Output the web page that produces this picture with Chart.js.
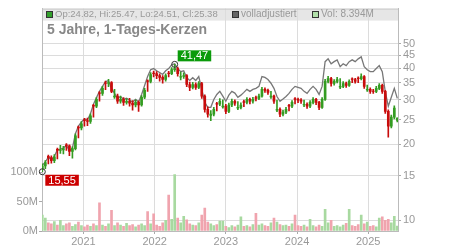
<!DOCTYPE html>
<html>
<head>
<meta charset="utf-8">
<script src="https://cdn.jsdelivr.net/npm/chart.js@4.4.1/dist/chart.umd.min.js"></script>
<style>
  html, body { margin: 0; padding: 0; background: #fff; }
  #wrap { width: 450px; height: 250px; }
</style>
</head>
<body>
<div id="wrap"><canvas id="chart" width="450" height="250"></canvas></div>
<script>
// candles are sampled every ~2 weeks, starting early June 2020
const startYear = 2020.4225;
const stepYears = 3 / 71;
const yearTicks = [2021, 2022, 2023, 2024, 2025];
const priceTicks = [10, 15, 20, 25, 30, 35, 40, 45, 50];
const volTicks = [0, 50, 100]; // millions

const open = [
  15.9, 16.4, 17.9, 17.7, 17.2, 19.1, 18.9, 19.0, 19.9, 19.7,
  18.7, 19.2, 23.4, 23.2, 25.0, 24.8, 24.6, 28.5, 28.3, 32.0,
  31.8, 35.0, 34.8, 35.1, 30.8, 31.0, 29.6, 30.1, 29.3, 29.6,
  29.1, 28.6, 29.3, 28.6, 30.7, 35.7, 35.5, 38.3, 38.1, 37.4,
  36.8, 36.1, 38.3, 38.1, 39.5, 39.9, 36.9, 37.1, 37.4, 34.5,
  33.6, 34.5, 33.6, 34.8, 31.0, 27.5, 26.0, 26.3, 29.0, 28.8,
  28.1, 28.3, 27.0, 28.6, 29.6, 27.8, 28.0, 29.5, 29.3, 30.1,
  29.6, 30.6, 30.4, 31.0, 33.0, 32.7, 30.8, 31.0, 27.3, 27.5,
  26.3, 26.8, 28.5, 28.3, 30.3, 30.1, 29.9, 28.6, 28.8, 28.3,
  29.3, 30.1, 29.3, 28.0, 30.1, 35.5, 36.4, 34.8, 35.5, 33.7,
  33.9, 34.8, 34.2, 36.3, 36.1, 36.6, 36.4, 37.1, 32.8, 33.0,
  32.5, 32.4, 33.3, 34.2, 32.4, 27.0, 23.6, 25.6, 24.82
];
const high = [
  16.7, 17.2, 18.1, 18.0, 18.2, 19.3, 19.8, 19.6, 20.1, 19.9,
  19.5, 22.0, 23.6, 24.6, 25.3, 25.4, 26.4, 28.8, 30.6, 32.3,
  33.9, 35.6, 36.2, 35.4, 33.0, 31.6, 31.0, 30.6, 30.3, 30.4,
  29.8, 30.0, 29.7, 31.2, 33.3, 36.0, 38.5, 39.0, 38.8, 38.0,
  37.4, 38.0, 38.9, 40.3, 41.47, 40.4, 38.6, 38.4, 37.8, 35.3,
  35.2, 35.0, 35.4, 35.2, 31.4, 28.1, 27.2, 28.0, 29.3, 30.3,
  30.0, 28.8, 29.1, 30.2, 30.0, 29.5, 29.2, 29.9, 30.6, 30.5,
  30.7, 31.0, 31.6, 33.6, 33.5, 33.1, 32.4, 31.3, 29.9, 27.9,
  27.3, 28.0, 28.8, 29.8, 30.6, 30.5, 30.3, 29.9, 29.2, 29.8,
  30.6, 30.4, 29.6, 30.6, 36.2, 37.2, 36.8, 36.1, 36.8, 36.4,
  35.4, 35.3, 36.0, 36.7, 36.5, 37.0, 38.0, 37.4, 34.3, 33.5,
  33.0, 33.9, 34.8, 34.6, 32.7, 27.4, 26.1, 28.4, 25.47
];
const low = [
  15.55, 16.0, 16.7, 16.8, 16.9, 17.5, 18.4, 18.3, 18.9, 18.0,
  17.6, 19.0, 21.2, 22.8, 23.6, 23.7, 24.2, 25.6, 27.9, 29.6,
  31.2, 32.9, 33.8, 32.0, 30.4, 29.0, 29.1, 28.5, 28.8, 28.3,
  27.3, 28.1, 27.0, 28.3, 30.3, 32.4, 35.0, 37.0, 36.4, 35.6,
  34.9, 35.6, 37.0, 37.7, 38.9, 37.2, 36.0, 36.5, 33.8, 32.6,
  33.1, 33.0, 33.2, 30.4, 26.8, 25.6, 24.8, 25.9, 27.1, 28.4,
  27.8, 26.4, 26.7, 28.2, 28.5, 27.4, 27.6, 28.2, 28.9, 28.9,
  29.1, 29.7, 30.0, 30.7, 32.1, 31.5, 30.4, 29.0, 26.9, 25.7,
  25.9, 26.4, 27.1, 27.9, 28.9, 29.2, 29.0, 28.2, 27.7, 27.9,
  28.9, 28.7, 27.4, 27.7, 29.8, 35.0, 34.0, 34.3, 35.0, 33.2,
  33.5, 33.6, 33.9, 35.1, 34.9, 35.1, 36.0, 33.3, 32.4, 31.8,
  31.8, 32.0, 32.9, 31.8, 26.5, 21.3, 23.2, 25.2, 24.51
];
const close = [
  16.4, 16.9, 17.7, 17.2, 17.8, 18.9, 19.0, 19.2, 19.7, 18.7,
  19.2, 21.6, 23.2, 24.1, 24.8, 24.6, 25.9, 28.3, 30.1, 31.8,
  33.3, 34.8, 35.1, 32.4, 31.0, 29.6, 30.1, 29.3, 29.6, 29.1,
  28.6, 29.3, 28.6, 30.7, 32.7, 35.5, 37.8, 38.1, 37.4, 36.8,
  36.1, 37.4, 38.1, 39.5, 39.9, 38.1, 37.1, 37.4, 34.5, 33.6,
  34.5, 33.6, 34.8, 31.0, 27.5, 26.3, 26.3, 27.5, 28.8, 29.6,
  28.3, 27.0, 28.6, 29.6, 29.1, 28.0, 28.6, 29.3, 30.1, 29.6,
  30.1, 30.4, 31.0, 33.0, 32.7, 32.1, 31.0, 29.6, 27.5, 26.3,
  26.8, 27.5, 28.3, 29.3, 30.1, 29.9, 29.6, 28.8, 28.3, 29.3,
  30.1, 29.3, 28.0, 30.1, 35.5, 36.4, 34.8, 35.5, 36.1, 33.9,
  34.8, 34.2, 35.5, 36.1, 35.5, 36.4, 37.1, 33.9, 33.0, 32.4,
  32.4, 33.3, 34.2, 32.4, 27.0, 23.6, 25.6, 27.8, 25.38
];
// "volladjustiert" line
const adjusted = [
  16.5, 17.0, 17.8, 17.3, 17.9, 19.0, 19.1, 19.3, 19.8, 18.8,
  19.3, 22.0, 23.6, 24.5, 25.2, 25.0, 26.4, 28.8, 30.6, 32.4,
  33.9, 35.4, 35.7, 33.3, 31.8, 30.4, 30.9, 30.1, 30.4, 29.9,
  29.4, 30.1, 29.4, 31.5, 34.2, 37.1, 39.5, 39.9, 39.1, 38.5,
  37.8, 39.1, 39.9, 41.3, 41.7, 39.9, 38.8, 39.1, 36.7, 35.8,
  36.7, 35.8, 37.1, 33.0, 29.3, 28.0, 28.0, 30.1, 31.5, 32.4,
  31.0, 29.6, 31.3, 32.4, 31.9, 30.7, 31.3, 32.1, 33.0, 32.4,
  33.0, 33.3, 33.9, 37.1, 36.8, 36.1, 34.9, 33.3, 30.9, 29.6,
  30.2, 30.9, 31.8, 33.0, 33.9, 33.6, 33.3, 32.4, 31.8, 33.0,
  33.9, 33.0, 31.5, 33.9, 42.5, 43.6, 41.7, 42.5, 43.2, 40.6,
  41.7, 41.0, 42.5, 43.2, 42.5, 43.6, 44.4, 40.6, 39.5, 38.8,
  38.8, 39.9, 41.0, 38.8, 32.3, 28.3, 30.7, 33.3, 30.4
];
// volume in millions
const volume = [
  27, 22, 14, 12, 16, 10, 18, 9, 12, 14,
  8, 11, 15, 9, 7, 10, 8, 12, 9, 48,
  10, 8, 12, 35, 9, 14, 10, 8, 13, 9,
  11, 7, 10, 12, 9, 33, 12, 29, 10, 8,
  14, 18, 61, 20, 96, 22, 14, 25, 19, 12,
  10, 9, 14, 27, 39, 15, 12, 9, 11, 17,
  17, 8, 6, 9, 7, 10, 24, 8, 9, 7,
  11, 30, 10, 12, 9, 8, 14, 22, 15, 11,
  9, 10, 8, 12, 27, 9, 8, 10, 7, 20,
  9, 7, 10, 8, 37, 14, 18, 8, 9, 7,
  10, 13, 37, 9, 8, 11, 27, 12, 15, 8,
  9, 7, 22, 24, 18, 20, 14, 25, 8.394
];

const FONT = 'Arial, "Liberation Sans", sans-serif';
const xs = close.map((_, i) => startYear + i * stepYears);
const up = close.map((c, i) => c >= open[i]);
const candleCol = up.map(u => u ? '#349c22' : '#c80c0c');
const volCol = up.map(u => u ? '#a8d9a0' : '#f0a4ae');
const last = close.length - 1;
const comma = v => v.toFixed(2).replace('.', ',');

const overlay = {
  id: 'overlay',
  beforeDraw(chart) {
    const { ctx, chartArea: a } = chart;
    ctx.save();
    ctx.fillStyle = '#e6e6e6';
    ctx.fillRect(a.left, a.top, a.right - a.left, 12);
    ctx.restore();
  },
  afterDatasetsDraw(chart) {
    const { ctx } = chart;
    const sx = chart.scales.x, sy = chart.scales.y;
    const hi = high.indexOf(Math.max(...high));
    const lo = low.indexOf(Math.min(...low));
    const marks = [
      { i: hi, v: high[hi], bg: '#0b9b0b', above: true },
      { i: lo, v: low[lo], bg: '#cc0000', above: false }
    ];
    ctx.save();
    ctx.font = '11px ' + FONT;
    marks.forEach(m => {
      const px = sx.getPixelForValue(xs[m.i]);
      const py = sy.getPixelForValue(m.v);
      ctx.strokeStyle = '#333';
      ctx.lineWidth = 1;
      ctx.beginPath();
      ctx.arc(px, py, 3, 0, Math.PI * 2);
      ctx.stroke();
      const txt = comma(m.v);
      const w = ctx.measureText(txt).width + 6;
      const top = m.above ? py - 14 : py + 3;
      ctx.fillStyle = m.bg;
      ctx.fillRect(px + 3, top, w, 11);
      ctx.fillStyle = '#fff';
      ctx.textBaseline = 'middle';
      ctx.fillText(txt, px + 6, top + 6);
    });
    ctx.restore();
  },
  afterDraw(chart) {
    const { ctx, chartArea: a } = chart;
    ctx.save();
    ctx.strokeStyle = '#c8c8c8';
    ctx.lineWidth = 1;
    ctx.beginPath();
    ctx.moveTo(a.left, a.top + 0.5);
    ctx.lineTo(a.right, a.top + 0.5);
    ctx.stroke();

    const items = [
      { x: 46, fill: '#33a02c', size: 9.5, text: 'Op:' + open[last].toFixed(2) + ', Hi:' + high[last].toFixed(2) +
        ', Lo:' + low[last].toFixed(2) + ', Cl:' + close[last].toFixed(2) },
      { x: 232, fill: '#666', size: 10, text: 'volladjustiert' },
      { x: 312, fill: '#b2e0aa', size: 10, text: 'Vol: ' + volume[last].toFixed(3) + 'M' }
    ];
    ctx.textBaseline = 'middle';
    items.forEach(it => {
      ctx.fillStyle = it.fill;
      ctx.fillRect(it.x, 11.5, 6, 6);
      ctx.strokeStyle = '#333';
      ctx.strokeRect(it.x + 0.5, 11.5, 6, 6);
      ctx.font = it.size + 'px ' + FONT;
      ctx.fillStyle = '#999';
      ctx.fillText(it.text, it.x + 9, 14.5);
    });

    ctx.font = 'bold 14px ' + FONT;
    ctx.fillStyle = '#888';
    ctx.fillText('5 Jahre, 1-Tages-Kerzen', 47, 30);
    ctx.restore();
  }
};

new Chart(document.getElementById('chart'), {
  type: 'bar',
  data: {
    datasets: [
      {
        label: 'Volumen',
        yAxisID: 'yVol',
        data: xs.map((x, i) => ({ x, y: volume[i] })),
        backgroundColor: volCol,
        barThickness: 2,
        grouped: false,
        order: 4
      },
      {
        type: 'line',
        label: 'volladjustiert',
        yAxisID: 'y',
        data: xs.map((x, i) => ({ x, y: adjusted[i] })),
        borderColor: '#777',
        borderWidth: 1.3,
        pointRadius: 0,
        tension: 0,
        order: 3
      },
      {
        label: 'wick',
        yAxisID: 'y',
        data: xs.map((x, i) => ({ x, y: [low[i], high[i]] })),
        backgroundColor: candleCol,
        barThickness: 1,
        grouped: false,
        order: 2
      },
      {
        label: 'body',
        yAxisID: 'y',
        data: xs.map((x, i) => ({ x, y: [open[i], close[i]] })),
        backgroundColor: candleCol,
        barThickness: 2,
        grouped: false,
        order: 1
      }
    ]
  },
  plugins: [overlay],
  options: {
    responsive: false,
    animation: false,
    devicePixelRatio: 1,
    layout: { padding: { top: 7, left: 0, right: 0, bottom: 0 } },
    plugins: { legend: { display: false }, tooltip: { enabled: false } },
    scales: {
      x: {
        type: 'linear',
        min: 2020.418,
        max: 2025.418,
        offset: false,
        afterBuildTicks: s => { s.ticks = yearTicks.map(v => ({ value: v })); },
        afterFit: s => { s.height = 19; },
        grid: { color: '#dcdcdc', tickLength: 3, tickColor: '#aaa', offset: false },
        border: { color: '#bbb' },
        ticks: { color: '#999', font: { size: 11, family: FONT }, padding: 1, maxRotation: 0,
                 autoSkip: false, callback: v => String(v) }
      },
      y: {
        type: 'logarithmic',
        position: 'right',
        min: 9.05,
        max: 69,
        afterBuildTicks: s => { s.ticks = priceTicks.map(v => ({ value: v })); },
        afterFit: s => { s.width = 52; },
        grid: { color: '#dcdcdc', tickLength: 3, tickColor: '#aaa' },
        border: { color: '#bbb' },
        ticks: { color: '#999', font: { size: 11, family: FONT }, padding: 2, autoSkip: false,
                 callback: v => String(v) }
      },
      yVol: {
        type: 'linear',
        position: 'left',
        min: 0,
        max: 377.7,
        afterBuildTicks: s => { s.ticks = volTicks.map(v => ({ value: v })); },
        afterFit: s => { s.width = 42; },
        grid: { drawOnChartArea: false, tickLength: 3, tickColor: '#aaa' },
        border: { color: '#bbb' },
        ticks: { color: '#999', font: { size: 11, family: FONT }, padding: 1, autoSkip: false,
                 callback: v => v + 'M' }
      }
    }
  }
});
</script>
</body>
</html>
